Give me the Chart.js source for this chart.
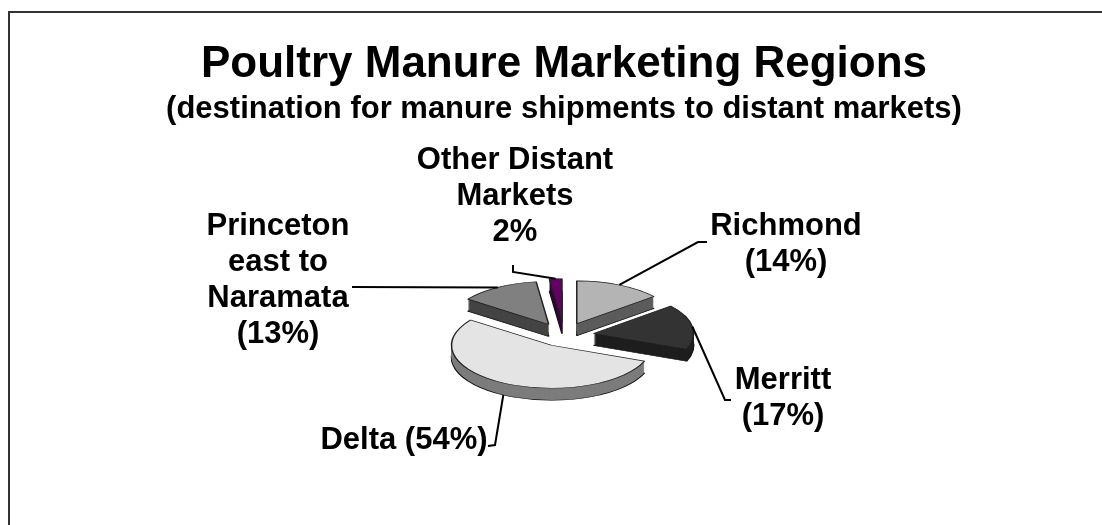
<!DOCTYPE html>
<html lang="en">
<head>
    <meta charset="UTF-8">
    <title>Poultry Manure Marketing Regions</title>
    <script src="https://cdn.jsdelivr.net/npm/chart.js"></script>
    <style>
        html, body {
            margin: 0;
            padding: 0;
            background: #ffffff;
            overflow: hidden;
        }

        .frame {
            position: absolute;
            left: 8px;
            top: 11px;
            width: 1200px;
            height: 600px;
            border-left: 2px solid #333333;
            border-top: 2px solid #333333;
        }

        .chart {
            position: absolute;
            left: 0;
            top: 0;
            width: 1102px;
            height: 525px;
        }
    </style>
</head>
<body>
    <div class="frame"></div>
    <div class="chart"><canvas id="regionChart"></canvas></div>

    <script>
        // data
        const categories = ['Richmond', 'Merritt', 'Delta', ['Princeton', 'east to', 'Naramata'], ['Other Distant', 'Markets']];
        const shares = [14, 17, 54, 13, 2];

        // look
        const topColors = ['#b4b4b4', '#333333', '#e4e4e4', '#808080', '#660066'];
        const sideColors = ['#5c5c5c', '#1e1e1e', '#7c7c7c', '#444444', '#3a003a'];
        const explode = [30, 30, 26, 30, 32];
        const TILT = 0.43;
        const DEPTH = 12;
        const LINE_H = 36;

        // label placement: pct style, first line centre, leader points (label side)
        const labelLayout = [
            { pct: 'newline', x: 786, y: 226, leader: [[698, 242], [707, 242]] },
            { pct: 'newline', x: 783, y: 380, leader: [[725, 400], [731, 400]] },
            { pct: 'inline',  x: 404, y: 440, leader: [[495, 445], [488, 446]] },
            { pct: 'newline', x: 278, y: 226, leader: [[352, 287]] },
            { pct: 'plain',   x: 515, y: 160, leader: [[513, 272], [513, 265]] }
        ];

        Chart.defaults.font.family = '"Liberation Sans", Arial, sans-serif';
        Chart.defaults.color = '#000000';

        function labelText(i) {
            const name = [].concat(categories[i]);
            const v = shares[i];
            const style = labelLayout[i].pct;
            if (style === 'inline') return [name.join(' ') + ' (' + v + '%)'];
            if (style === 'plain') return name.concat([v + '%']);
            return name.concat(['(' + v + '%)']);
        }

        function drawSlice(ctx, arc, i, depth, override) {
            const mid = (arc.startAngle + arc.endAngle) / 2;
            const orig = arc.options;
            ctx.save();
            ctx.translate(Math.cos(mid) * explode[i], Math.sin(mid) * explode[i] + depth / TILT);
            arc.options = Object.assign({}, orig, override);
            arc.draw(ctx);
            arc.options = orig;
            ctx.restore();
        }

        // flattened, extruded pie
        const pie3d = {
            id: 'pie3d',
            beforeDatasetDraw(chart, args) {
                const ctx = chart.ctx;
                const arcs = args.meta.data;
                const cx = arcs[0].x, cy = arcs[0].y;
                ctx.save();
                ctx.translate(cx, cy);
                ctx.scale(1, TILT);
                ctx.translate(-cx, -cy);
                for (let d = DEPTH; d >= 1; d--) {
                    arcs.forEach((arc, i) => {
                        drawSlice(ctx, arc, i, d, {
                            backgroundColor: sideColors[i],
                            borderColor: '#111111',
                            borderWidth: d === DEPTH ? 1.5 : 0
                        });
                    });
                }
                arcs.forEach((arc, i) => drawSlice(ctx, arc, i, 0, {}));
                ctx.restore();
                return false;
            }
        };

        const sliceLabels = {
            id: 'sliceLabels',
            afterDraw(chart) {
                const ctx = chart.ctx;
                const arcs = chart.getDatasetMeta(0).data;
                ctx.save();
                ctx.font = 'bold 31px "Liberation Sans", Arial, sans-serif';
                ctx.fillStyle = '#000000';
                ctx.textAlign = 'center';
                ctx.textBaseline = 'middle';
                ctx.strokeStyle = '#000000';
                ctx.lineWidth = 2;
                arcs.forEach((arc, i) => {
                    const L = labelLayout[i];
                    labelText(i).forEach((t, j) => ctx.fillText(t, L.x, L.y + j * LINE_H));
                    const mid = (arc.startAngle + arc.endAngle) / 2;
                    const r = arc.outerRadius;
                    const ax = arc.x + Math.cos(mid) * (explode[i] + r);
                    let ay = arc.y + Math.sin(mid) * (explode[i] + r) * TILT;
                    if (Math.sin(mid) > 0.5) ay += DEPTH;
                    ctx.beginPath();
                    ctx.moveTo(ax, ay);
                    L.leader.forEach(p => ctx.lineTo(p[0], p[1]));
                    ctx.stroke();
                });
                ctx.restore();
            }
        };

        new Chart(document.getElementById('regionChart').getContext('2d'), {
            type: 'pie',
            data: {
                labels: categories,
                datasets: [{
                    data: shares,
                    backgroundColor: topColors,
                    borderColor: '#222222',
                    borderWidth: 1.5,
                    radius: 100
                }]
            },
            options: {
                responsive: true,
                maintainAspectRatio: false,
                animation: false,
                layout: { padding: { top: 32, left: 26, right: 0, bottom: 0 } },
                plugins: {
                    legend: { display: false },
                    tooltip: { enabled: false },
                    title: {
                        display: true,
                        text: 'Poultry Manure Marketing Regions',
                        font: { size: 44, weight: 'bold' },
                        color: '#000000',
                        padding: { top: 6, bottom: 0 }
                    },
                    subtitle: {
                        display: true,
                        text: '(destination for manure shipments to distant markets)',
                        font: { size: 31, weight: 'bold' },
                        color: '#000000',
                        padding: { top: 0, bottom: 18 }
                    }
                }
            },
            plugins: [pie3d, sliceLabels]
        });
    </script>
</body>
</html>
